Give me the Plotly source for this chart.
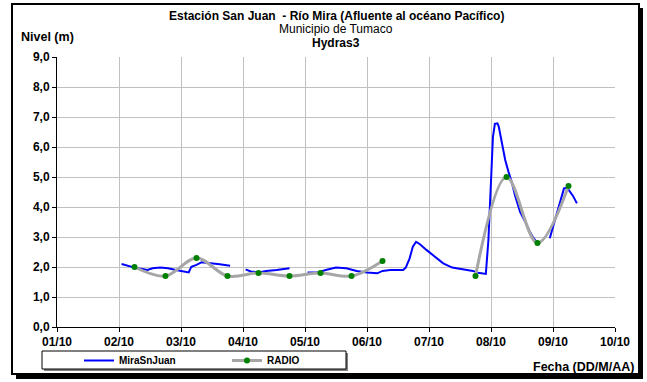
import plotly.graph_objects as go

# --- Data -----------------------------------------------------------------
# Hourly level readings at the San Juan station (None = no data)
mira_time = [
    "2012-10-02 01:00", "2012-10-02 06:00", "2012-10-02 11:00", "2012-10-02 13:00",
    "2012-10-02 16:00", "2012-10-02 19:00", "2012-10-02 22:00", "2012-10-03 00:00",
    "2012-10-03 03:00", "2012-10-03 04:00", "2012-10-03 06:00", "2012-10-03 08:00",
    "2012-10-03 11:00", "2012-10-03 15:00", "2012-10-03 19:00", "2012-10-03 21:00",
    "2012-10-04 01:00", "2012-10-04 03:00", "2012-10-04 06:00", "2012-10-04 09:00",
    "2012-10-04 13:00", "2012-10-04 18:00", "2012-10-04 21:00",
    "2012-10-05 01:00", "2012-10-05 05:00", "2012-10-05 08:00", "2012-10-05 12:00",
    "2012-10-05 16:00", "2012-10-05 20:00", "2012-10-06 00:00", "2012-10-06 03:00",
    "2012-10-06 04:00", "2012-10-06 06:00", "2012-10-06 09:00", "2012-10-06 14:00",
    "2012-10-06 15:00", "2012-10-06 16:30", "2012-10-06 17:45", "2012-10-06 19:00",
    "2012-10-06 20:30", "2012-10-06 23:00", "2012-10-07 02:30", "2012-10-07 05:30",
    "2012-10-07 09:00", "2012-10-07 13:00", "2012-10-07 17:00", "2012-10-07 19:00",
    "2012-10-07 22:00", "2012-10-07 23:00", "2012-10-08 00:00", "2012-10-08 00:45",
    "2012-10-08 01:30", "2012-10-08 02:30", "2012-10-08 03:00", "2012-10-08 04:00",
    "2012-10-08 05:30", "2012-10-08 06:45", "2012-10-08 08:00", "2012-10-08 09:15",
    "2012-10-08 11:15", "2012-10-08 13:15", "2012-10-08 15:00", "2012-10-08 16:30",
    "2012-10-08 17:45", "2012-10-08 20:00",
    "2012-10-08 22:45", "2012-10-09 00:45", "2012-10-09 02:45", "2012-10-09 04:15",
    "2012-10-09 05:30", "2012-10-09 06:30", "2012-10-09 07:45", "2012-10-09 09:15",
]
mira_level = [
    2.10, 1.98, 1.90, 1.96,
    1.98, 1.96, 1.90, 1.87,
    1.82, 2.01, 2.07, 2.16,
    2.12, 2.09, 2.04, None,
    1.92, 1.85, 1.82, 1.87,
    1.90, 1.96, None,
    1.82, 1.82, 1.90, 1.98,
    1.96, 1.87, 1.82, 1.79,
    1.79, 1.87, 1.90, 1.90,
    1.98, 2.29, 2.68, 2.84,
    2.76, 2.57, 2.32, 2.12,
    1.98, 1.92, 1.87, 1.81,
    1.77, 2.90, 5.01, 6.34,
    6.77, 6.79, 6.68, 6.23,
    5.57, 5.18, 4.84, 4.40,
    3.84, 3.51, 3.18, 2.96,
    2.82, None,
    2.96, 3.57, 4.18, 4.62,
    4.64, 4.51, 4.37, 4.12,
]

# Twice-daily radio reports
radio_time = [
    "2012-10-02 06:00", "2012-10-02 18:00", "2012-10-03 06:00", "2012-10-03 18:00",
    "2012-10-04 06:00", "2012-10-04 18:00", "2012-10-05 06:00", "2012-10-05 18:00",
    "2012-10-06 06:00", "2012-10-06 18:00", "2012-10-07 06:00", "2012-10-07 18:00",
    "2012-10-08 06:00", "2012-10-08 18:00", "2012-10-09 06:00",
]
radio_level = [
    2.0, 1.7, 2.3, 1.7,
    1.8, 1.7, 1.8, 1.7,
    2.2, None, None, 1.7,
    5.0, 2.8, 4.7,
]

y_ticks = [0, 1, 2, 3, 4, 5, 6, 7, 8, 9]

# --- Geometry helpers (pixel -> paper coordinates) --------------------------
W, H = 647, 382
L, R, T, B = 57, 615, 57, 327


def px(x):
    return (x - L) / (R - L)


def py(y):
    return (B - y) / (B - T)


FONT = "Liberation Sans, Arial, sans-serif"

fig = go.Figure()

fig.add_trace(go.Scatter(
    x=mira_time, y=mira_level, name="MiraSnJuan",
    mode="lines", line=dict(color="#0000FF", width=2),
    connectgaps=False,
))
fig.add_trace(go.Scatter(
    x=radio_time, y=radio_level, name="RADIO",
    mode="lines+markers",
    line=dict(color="#A6A6A6", width=3, shape="spline", smoothing=1.0),
    marker=dict(color="#008000", size=6),
    connectgaps=False,
))

tick_font = dict(family=FONT, size=12, color="black", weight="bold")

fig.update_xaxes(
    type="date",
    range=["2012-10-01", "2012-10-10"],
    tick0="2012-10-01", dtick=86400000,
    tickformat="%d/%m",
    showgrid=True, gridcolor="#C0C0C0", gridwidth=1,
    showline=True, linecolor="black", linewidth=1,
    ticks="outside", ticklen=4, tickcolor="black",
    tickfont=tick_font,
    zeroline=False,
)
fig.update_yaxes(
    range=[0, 9],
    tickvals=y_ticks,
    tickformat=".1f",
    showgrid=True, gridcolor="#C0C0C0", gridwidth=1,
    showline=True, linecolor="black", linewidth=1,
    ticks="outside", ticklen=4, tickcolor="black",
    tickfont=tick_font,
    zeroline=False,
)

title_lines = [
    ("<b>Estación San Juan  - Río Mira (Afluente al océano Pacífico)</b>", 15.5),
    ("Municipio de Tumaco", 29.5),
    ("<b>Hydras3</b>", 43.5),
]
anns = []
for text, ypix in title_lines:
    anns.append(dict(
        text=text, x=px(336), y=py(ypix), xref="paper", yref="paper",
        xanchor="center", yanchor="middle", showarrow=False, borderpad=0,
        font=dict(family=FONT, size=12, color="black"),
    ))
anns.append(dict(
    text="<b>Nivel (m)</b>", x=px(20), y=py(37), xref="paper", yref="paper",
    xanchor="left", yanchor="middle", showarrow=False, borderpad=0,
    font=dict(family=FONT, size=12.5, color="black"),
))
anns.append(dict(
    text="<b>Fecha (DD/M/AA)</b>", x=px(635), y=py(367), xref="paper", yref="paper",
    xanchor="right", yanchor="middle", showarrow=False, borderpad=0,
    font=dict(family=FONT, size=12.5, color="black"),
))

shapes = [
    # outer frame with drop shadow
    dict(type="rect", xref="paper", yref="paper", layer="below",
         x0=px(639), x1=px(643), y0=py(379), y1=py(8),
         fillcolor="black", line=dict(width=0)),
    dict(type="rect", xref="paper", yref="paper", layer="below",
         x0=px(16), x1=px(643), y0=py(379), y1=py(374),
         fillcolor="black", line=dict(width=0)),
    dict(type="rect", xref="paper", yref="paper", layer="below",
         x0=px(12), x1=px(639), y0=py(374), y1=py(4),
         line=dict(color="black", width=2)),
    # legend box with shadow
    dict(type="rect", xref="paper", yref="paper", layer="below",
         x0=px(44), x1=px(348), y0=py(371), y1=py(353),
         fillcolor="#808080", line=dict(width=0)),
    dict(type="rect", xref="paper", yref="paper", layer="below",
         x0=px(42), x1=px(346), y0=py(369), y1=py(351),
         fillcolor="white", line=dict(color="black", width=1)),
]

fig.update_layout(
    width=W, height=H,
    margin=dict(l=L, r=W - R, t=T, b=H - B, pad=0, autoexpand=False),
    paper_bgcolor="white", plot_bgcolor="white",
    separators=", ",
    font=dict(family=FONT, size=11, color="black"),
    showlegend=True,
    legend=dict(
        orientation="h", x=px(79), y=py(346), xanchor="left", yanchor="top",
        bgcolor="rgba(0,0,0,0)", borderwidth=0,
        entrywidth=103, entrywidthmode="pixels",
        font=dict(family=FONT, size=10, color="black", weight="bold"),
        itemclick=False, itemdoubleclick=False,
    ),
    annotations=anns,
    shapes=shapes,
)

fig.write_html("out.html")
